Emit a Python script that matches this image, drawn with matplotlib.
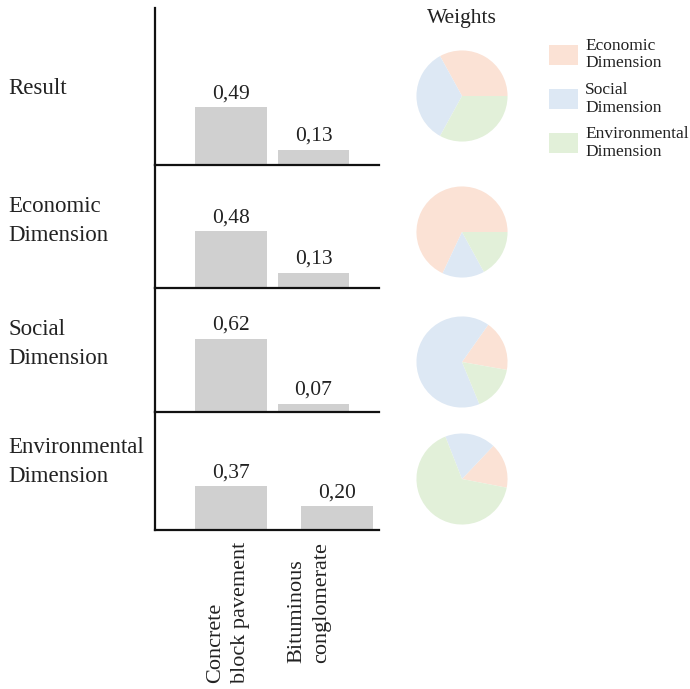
import matplotlib
matplotlib.use("Agg")
import matplotlib.pyplot as plt
from matplotlib.patches import Patch

plt.rcParams["font.family"] = ["Liberation Serif", "DejaVu Serif"]

# data
panels = ["Result", "Economic\nDimension", "Social\nDimension", "Environmental\nDimension"]
alternatives = ["Concrete\nblock pavement", "Bituminous\nconglomerate"]
scores = [[0.49, 0.13], [0.48, 0.13], [0.62, 0.07], [0.37, 0.20]]
weight_names = ["Economic\nDimension", "Social\nDimension", "Environmental\nDimension"]
weights = [[0.33, 0.34, 0.33],
           [0.68, 0.15, 0.17],
           [0.18, 0.66, 0.16],
           [0.16, 0.18, 0.66]]

# layout (pixels on a 690x689 canvas)
W, H = 690, 689
baselines = [165, 288, 412, 530]
tops = [8, 165, 288, 412]
label_y = [88, 221, 344, 462]
bar_pos = [[0, 1], [0, 1], [0, 1], [0, 1.285]]
pie_centres = [96, 232, 362, 479]
start_angles = [0, 0, -10, -11]
colors = ["#fbe2d5", "#dde8f4", "#e2f0d9"]
bar_color = "#d0d0d0"
txt = "#222222"
px_per_unit = 118

fig = plt.figure(figsize=(W / 100, H / 100), dpi=100)

ax_left, ax_w = 155, 224
for i in range(4):
    top, base = tops[i], baselines[i]
    ax = fig.add_axes([ax_left / W, 1 - base / H, ax_w / W, (base - top) / H])
    ax.bar(bar_pos[i], scores[i], width=0.87, color=bar_color)
    for x, v in zip(bar_pos[i], scores[i]):
        ax.text(x, v + 4 / px_per_unit, f"{v:.2f}".replace(".", ","),
                ha="center", va="bottom", fontsize=15.5, color=txt)
    ax.set_xlim(-76 / 82.5, (ax_w - 76) / 82.5)
    ax.set_ylim(0, (base - top) / px_per_unit)
    for s in ["top", "right"]:
        ax.spines[s].set_visible(False)
    for s in ["left", "bottom"]:
        ax.spines[s].set_linewidth(1.6)
        ax.spines[s].set_color("#111111")
    ax.set_xticks([])
    ax.set_yticks([])
    ax.patch.set_alpha(0)

    fig.text(8 / W, 1 - label_y[i] / H, panels[i], ha="left",
             va="center", fontsize=16.5, color=txt, linespacing=1.45)

    pax = fig.add_axes([(462 - 46) / W, 1 - (pie_centres[i] + 46) / H,
                        92 / W, 92 / H])
    pax.pie(weights[i], colors=colors, startangle=start_angles[i],
            counterclock=True, radius=1.0)
    pax.set_xlim(-1.01, 1.01)
    pax.set_ylim(-1.01, 1.01)
    pax.set_aspect("equal")

# alternative labels (rotated)
for x, lab in zip([228, 309], alternatives):
    fig.text(x / W, 1 - 542 / H, lab, rotation=90, ha="center", va="top",
             multialignment="left", fontsize=16, color=txt, linespacing=1.4)

fig.text(462 / W, 1 - 18 / H, "Weights", ha="center", va="center",
         fontsize=15.5, color=txt)

handles = [Patch(facecolor=c, edgecolor="none") for c in colors]
fig.legend(handles, weight_names, loc="upper left",
           bbox_to_anchor=(533 / W, 1 - 22 / H), frameon=False,
           handlelength=1.7, handleheight=1.4,
           handletextpad=0.4, labelspacing=0.6,
           prop={"family": ["Liberation Serif"], "size": 12.5})
for t in fig.legends[0].get_texts():
    t.set_linespacing(1.15)
    t.set_color(txt)

fig.savefig("out.png", dpi=100)
